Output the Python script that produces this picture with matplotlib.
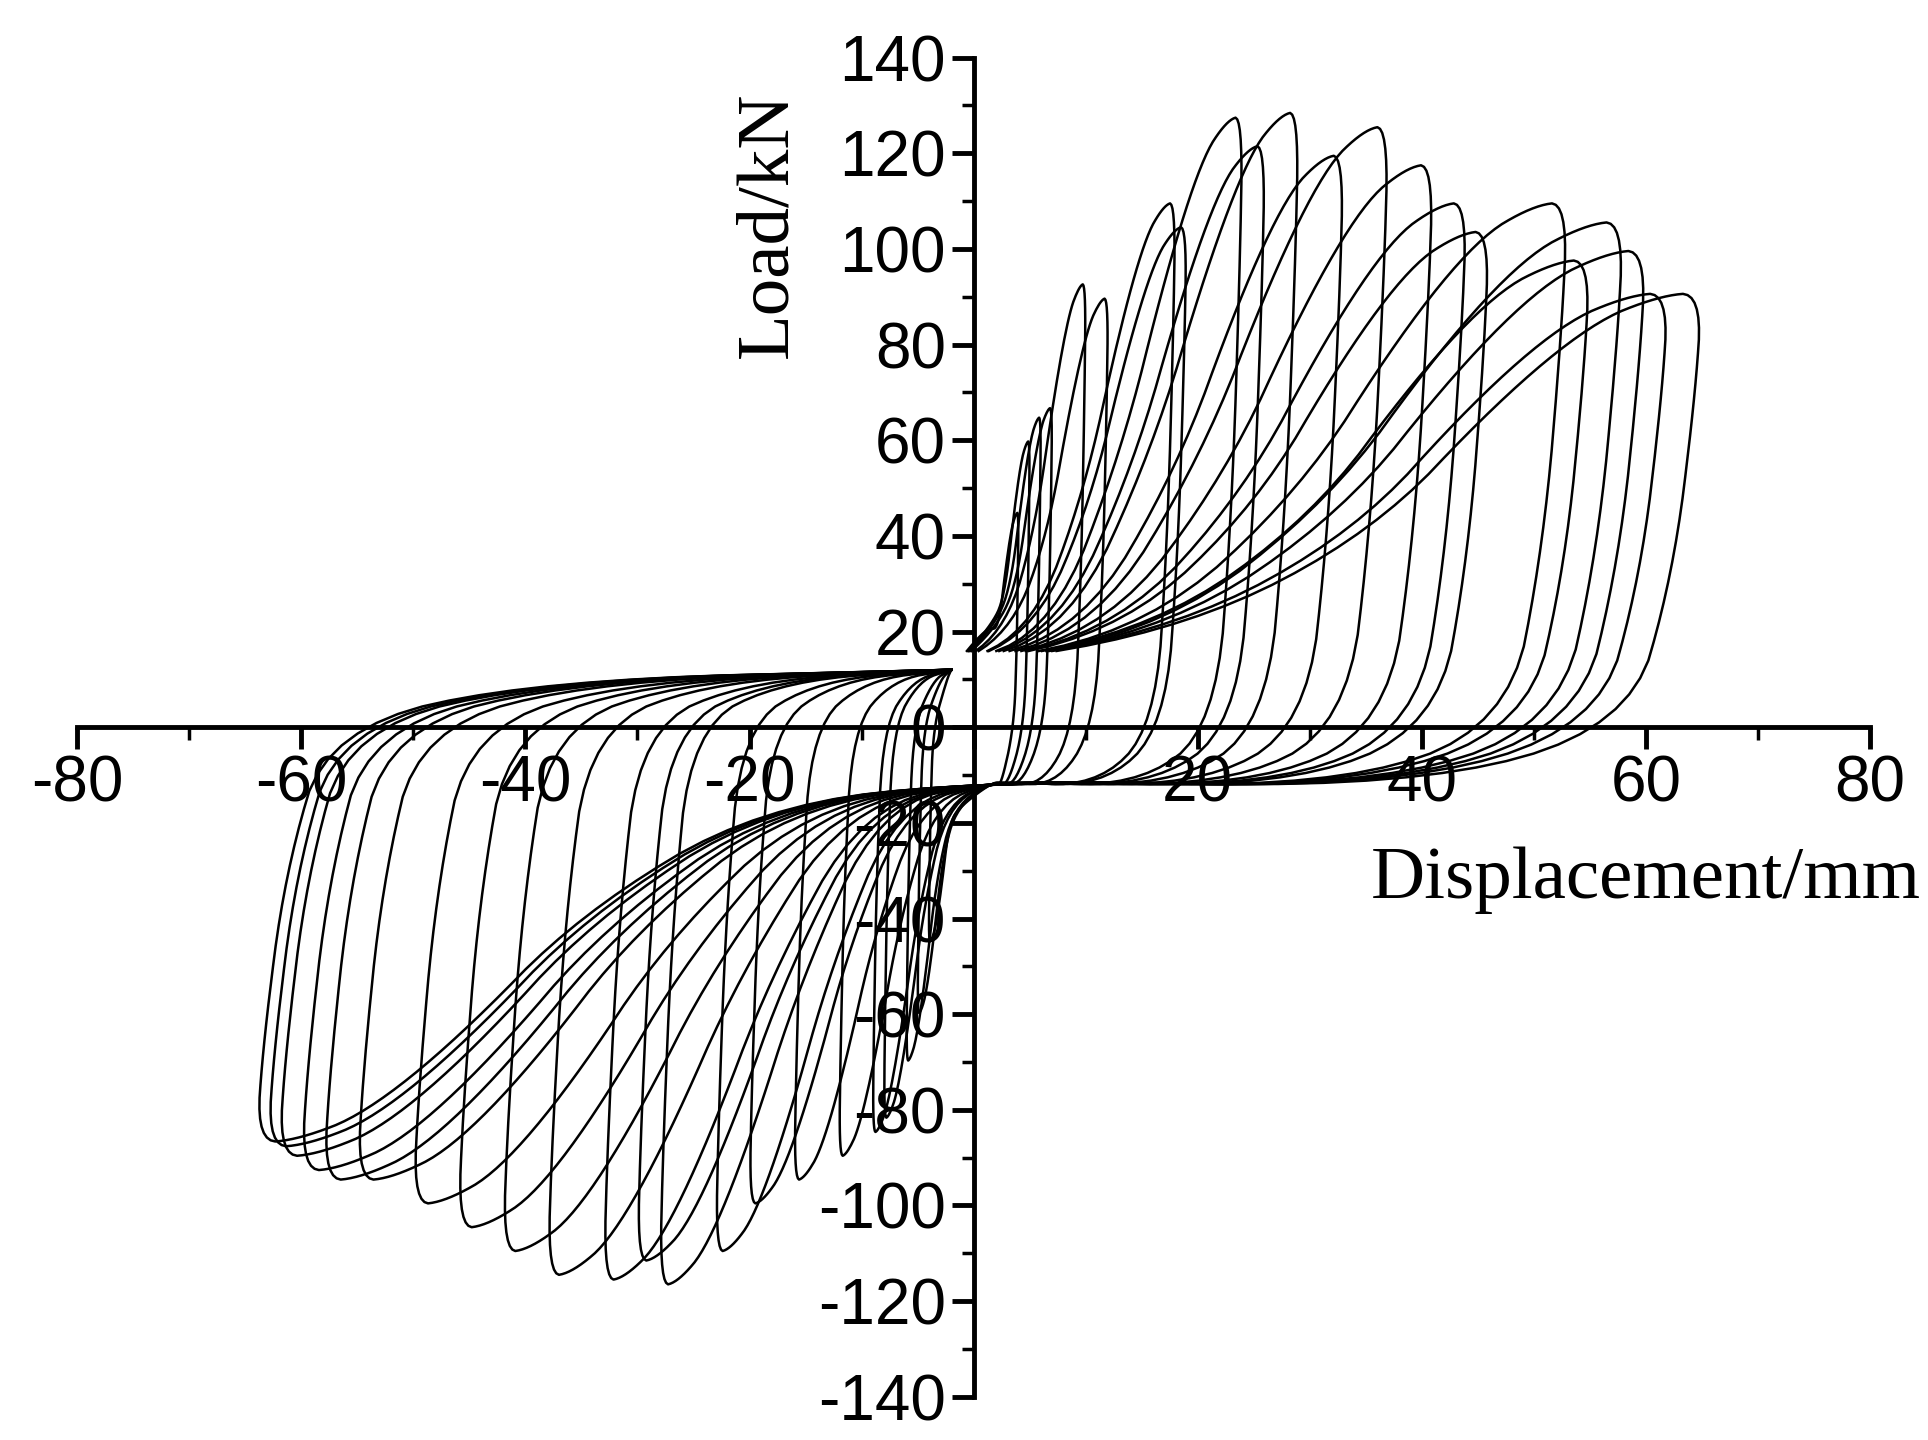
import numpy as np
import matplotlib
matplotlib.use("Agg")
import matplotlib.pyplot as plt

# peak points of each cycle
pos_disp = [4, 5, 6, 7, 10, 12, 18, 19, 24, 26, 29, 33, 37, 41, 44, 46, 53, 55, 58, 60, 62, 65]
pos_load = [45, 60, 65, 67, 93, 90, 110, 105, 128, 122, 129, 120, 126, 118, 110, 104, 110, 98, 106, 100, 91, 91]
neg_disp = [-4, -5, -6, -8, -9, -12, -16, -20, -23, -28, -30, -33, -38, -42, -46, -50, -55, -58, -60, -62, -63, -64]
neg_load = [-45, -60, -70, -82, -85, -90, -95, -100, -110, -117, -112, -116, -115, -110, -105, -100, -95, -95, -93, -90, -88, -87]

def half(d, F, pin):
    fx = [0.3, 0.55, 0.72, 0.85, 0.94, 1.0, 0.99, 0.96, 0.9, 0.6]
    fy = [None, 0.45, 0.75, 0.93, 0.99, 1.0, 0.75, 0.35, 0.0, None]
    xs, ys = [], []
    for a, b in zip(fx, fy):
        xs.append(d * a)
        if b is None:
            ys.append(pin * (1.5 if a < 0.4 else -0.9))
        else:
            ys.append(F * b)
    return xs, ys

def chaikin(x, y, n=3):
    p = np.column_stack([x, y])
    for _ in range(n):
        q = 0.75 * p[:-1] + 0.25 * p[1:]
        r = 0.25 * p[:-1] + 0.75 * p[1:]
        p = np.vstack([np.column_stack([q, r]).reshape(-1, 2), p[-1:]])
    return p[:, 0], p[:, 1]

fig = plt.figure(figsize=(19.28, 14.4), dpi=100)
ax = fig.add_axes([0.04, 0.03, 0.93, 0.93])
for i in range(len(pos_disp)):
    xp, yp = half(pos_disp[i], pos_load[i], 14)
    xn, yn = half(neg_disp[i], neg_load[i], -11)
    xs = [-2] + xp + [2] + xn + [-2]
    ys = [12] + yp + [-11] + yn + [12]
    sx, sy = chaikin(xs, ys)
    ax.plot(sx, sy, color='black', lw=1.8)

ax.set_xlim(-80, 80)
ax.set_ylim(-140, 140)
ax.spines['left'].set_position(('data', 0))
ax.spines['bottom'].set_position(('data', 0))
ax.spines['right'].set_visible(False)
ax.spines['top'].set_visible(False)
for s in ['left', 'bottom']:
    ax.spines[s].set_linewidth(3.5)
ax.set_xticks(np.arange(-80, 81, 20))
ax.set_xticks(np.arange(-80, 81, 10), minor=True)
ax.set_yticks(np.arange(-140, 141, 20))
ax.set_yticks(np.arange(-140, 141, 10), minor=True)
ax.set_xticklabels([str(v) if v != 0 else '' for v in range(-80, 81, 20)])
ax.set_yticklabels([str(v) for v in range(-140, 141, 20)])
ax.tick_params(which='major', direction='out', length=16, width=3.5, labelsize=46, pad=4)
ax.tick_params(which='minor', direction='out', length=9, width=2.5)
for t in ax.get_xticklabels() + ax.get_yticklabels():
    t.set_family('Liberation Sans')
ax.text(-18.3, 105, 'Load/kN', rotation=90, fontsize=54, family='Liberation Serif',
        ha='center', va='center')
ax.text(84.5, -32, 'Displacement/mm', fontsize=54, family='Liberation Serif', ha='right', va='center',
        clip_on=False)
fig.savefig('out.png', dpi=100)
